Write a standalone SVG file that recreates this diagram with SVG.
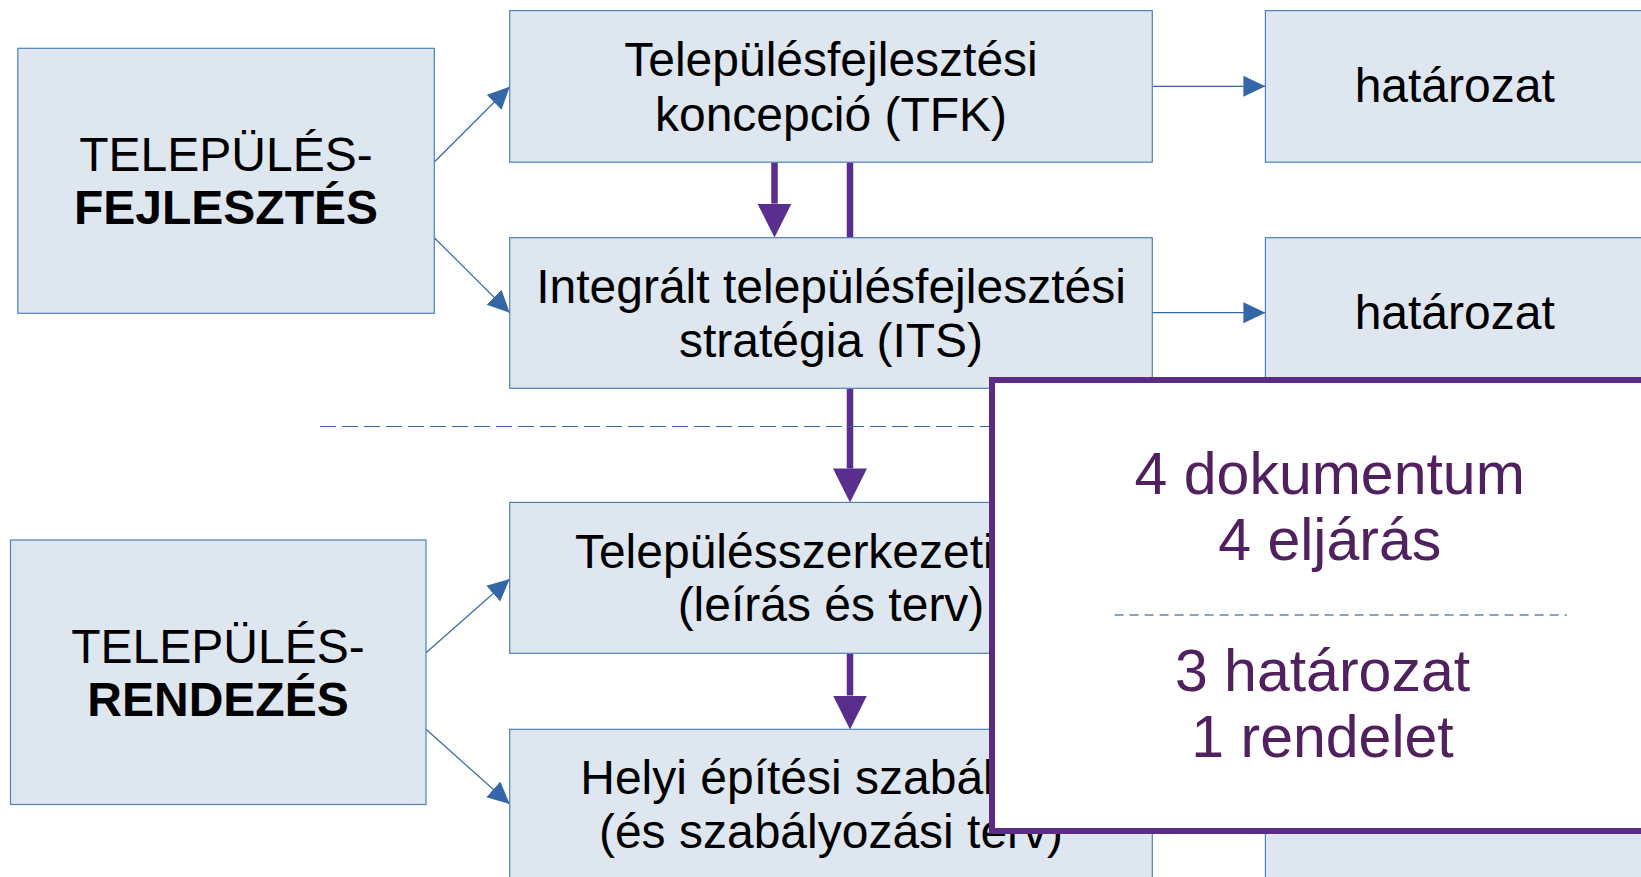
<svg xmlns="http://www.w3.org/2000/svg" width="1641" height="877" viewBox="0 0 1641 877">
<defs>
<style>
.box{fill:#DEE6EF;stroke:#4F81BD;stroke-width:1.2}
.t{font-family:"Liberation Sans",Arial,sans-serif;font-size:48px;fill:#000;text-anchor:middle}
.b{font-weight:bold}
.blue{stroke:#3566A8;stroke-width:1.2;fill:none}
.purp{stroke:#5A2E8E;stroke-width:6.5;fill:none}
.ov{font-family:"Liberation Sans",Arial,sans-serif;font-size:59px;fill:#51205E;text-anchor:middle}
</style>
<marker id="ab" markerUnits="userSpaceOnUse" markerWidth="24" markerHeight="24" refX="22" refY="10.5" orient="auto" viewBox="0 0 24 24">
<path d="M0,0 L22,10.5 L0,21 z" fill="#3566A8"/>
</marker>
<marker id="ap" markerUnits="userSpaceOnUse" markerWidth="36" markerHeight="36" refX="0" refY="17" orient="auto" viewBox="0 0 36 36">
<path d="M0,0 L34,17 L0,34 z" fill="#5A2E8E"/>
</marker>
</defs>
<rect width="1641" height="877" fill="#fff"/>
<g id="connectors">
<line class="blue" x1="434.3" y1="162" x2="509.7" y2="86.7" marker-end="url(#ab)"/>
<line class="blue" x1="434.3" y1="237.7" x2="509.7" y2="312.7" marker-end="url(#ab)"/>
<line class="blue" x1="426" y1="652.7" x2="509.7" y2="579" marker-end="url(#ab)"/>
<line class="blue" x1="426" y1="729.3" x2="509.7" y2="804" marker-end="url(#ab)"/>
<line class="blue" x1="1152.3" y1="86.3" x2="1265.4" y2="86.3" marker-end="url(#ab)"/>
<line class="blue" x1="1152.3" y1="312.7" x2="1265.4" y2="312.7" marker-end="url(#ab)"/>
<line class="purp" x1="774.5" y1="162.2" x2="774.5" y2="203.6" marker-end="url(#ap)"/>
<line class="purp" x1="850" y1="162.2" x2="850" y2="468.4" marker-end="url(#ap)"/>
<line class="purp" x1="850" y1="653.3" x2="850" y2="695.5" marker-end="url(#ap)"/>
<line x1="320" y1="426.5" x2="989" y2="426.5" stroke="#3566A8" stroke-width="1.2" stroke-dasharray="16 6"/>
</g>
<g id="fejlesztes">
<rect class="box" x="17.8" y="48.3" width="416.5" height="265"/>
<text class="t" x="226" y="170.7">TELEPÜLÉS-</text>
<text class="t b" x="226" y="224">FEJLESZTÉS</text>
</g>
<g id="tfk">
<rect class="box" x="509.7" y="10.6" width="642.6" height="151.6"/>
<text class="t" x="831" y="76">Településfejlesztési</text>
<text class="t" x="831" y="130.5">koncepció (TFK)</text>
</g>
<g id="hat1">
<rect class="box" x="1265.4" y="10.6" width="390" height="151.6"/>
<text class="t" x="1454.7" y="102">határozat</text>
</g>
<g id="its">
<rect class="box" x="509.7" y="237.7" width="642.6" height="150.6"/>
<text class="t" x="831" y="302.6">Integrált településfejlesztési</text>
<text class="t" x="831" y="357">stratégia (ITS)</text>
</g>
<g id="hat2">
<rect class="box" x="1265.4" y="237.7" width="390" height="150.6"/>
<text class="t" x="1454.7" y="329">határozat</text>
</g>
<g id="rendezes">
<rect class="box" x="10.5" y="540" width="415.5" height="264.5"/>
<text class="t" x="218" y="662.7">TELEPÜLÉS-</text>
<text class="t b" x="218" y="715.5">RENDEZÉS</text>
</g>
<g id="tszt">
<rect class="box" x="509.7" y="502.4" width="642.6" height="150.9"/>
<text class="t" x="831" y="567.8">Településszerkezeti terv</text>
<text class="t" x="831" y="621">(leírás és terv)</text>
</g>
<g id="hesz">
<rect class="box" x="509.7" y="729.3" width="642.6" height="160"/>
<text class="t" x="831" y="793.5">Helyi építési szabályzat</text>
<text class="t" x="831" y="847.5">(és szabályozási terv)</text>
</g>
<g id="right4">
<rect class="box" x="1265.4" y="729.3" width="390" height="160"/>
</g>
<g id="summary">
<rect x="992" y="380" width="700" height="451" fill="#fff" stroke="#5C2B82" stroke-width="6"/>
<text class="ov" x="1329.7" y="494">4 dokumentum</text>
<text class="ov" x="1329.7" y="559.5">4 eljárás</text>
<line x1="1114.6" y1="615" x2="1567" y2="615" stroke="#6384A8" stroke-width="1.3" stroke-dasharray="9 6"/>
<text class="ov" x="1322.5" y="691">3 határozat</text>
<text class="ov" x="1322.5" y="756.5">1 rendelet</text>
</g>
</svg>
